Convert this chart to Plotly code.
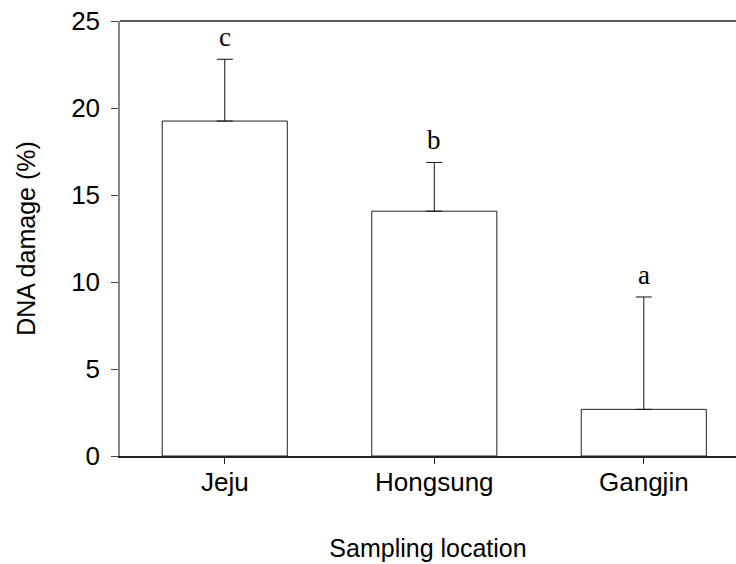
import plotly.graph_objects as go

categories = ["Jeju", "Hongsung", "Gangjin"]
damage = [19.25, 14.07, 2.68]
sd = [3.55, 2.8, 6.46]
letters = ["c", "b", "a"]

fig = go.Figure()
fig.add_trace(go.Bar(
    x=categories, y=damage,
    marker=dict(color="white", line=dict(color="#222222", width=1)),
    error_y=dict(type="data", array=sd, arrayminus=[0, 0, 0], symmetric=False,
                 color="#111111", thickness=1, width=8),
    width=0.597,
))

for c, m, s, l in zip(categories, damage, sd, letters):
    fig.add_annotation(x=c, y=m + s, text=l, showarrow=False, yanchor="bottom",
                       yshift=5, font=dict(family="Liberation Serif", size=27, color="black"))

fig.update_layout(
    width=736, height=564,
    margin=dict(l=120, r=0, t=21, b=108),
    plot_bgcolor="white", paper_bgcolor="white",
    showlegend=False,
    font=dict(family="Liberation Sans", size=25, color="black"),
)
fig.update_xaxes(
    range=[-0.5, 2.44], showline=True, linecolor="#222222", linewidth=1.5,
    ticks="outside", ticklen=6, tickcolor="#222222",
    tickfont=dict(size=26), ticklabelstandoff=-4,
    showgrid=False, zeroline=False,
    title=dict(text="Sampling location", standoff=44, font=dict(size=25)),
)
fig.update_yaxes(
    range=[0, 25], tickvals=[0, 5, 10, 15, 20, 25],
    showline=True, linecolor="#888888", linewidth=1.5,
    ticks="outside", ticklen=7, tickcolor="#444444",
    tickfont=dict(size=26), ticklabelstandoff=6,
    showgrid=False, zeroline=False,
    title=dict(text="DNA damage (%)", standoff=28, font=dict(size=25)),
)
# top border line
fig.add_shape(type="line", xref="paper", yref="paper", x0=0, x1=1, y0=1, y1=1,
              line=dict(color="#222222", width=1.5))

fig.write_html("out.html")
